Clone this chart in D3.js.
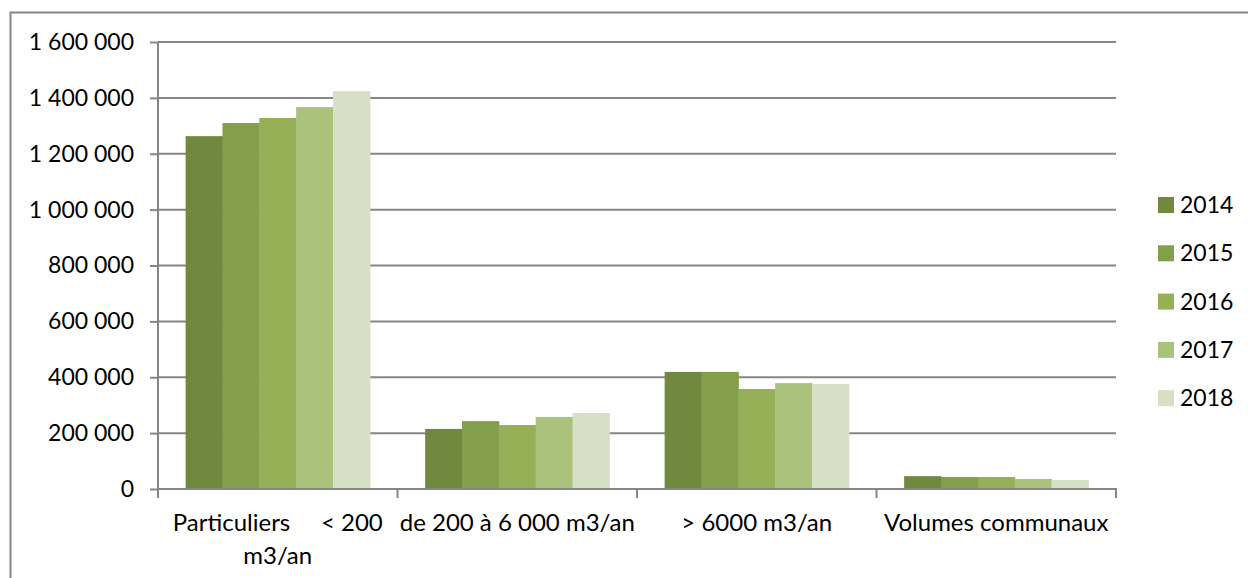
<!DOCTYPE html>
<html>
  <head>
    <meta charset="utf-8">
    <title>Volumes</title>
    <script src="https://d3js.org/d3.v7.min.js"></script>
    <style>
      body { margin: 0; background: #fff; }
      text { font-family: Lato, "Open Sans", sans-serif; fill: #000; }
    </style>
  </head>
  <body>
    <svg id="canvas" width="1248" height="578"></svg>
    <script>
      // data
      var categories = ["Particuliers      < 200 m3/an", "de 200 à 6 000 m3/an", "> 6000 m3/an", "Volumes communaux"];
      var catLines = [["Particuliers     < 200", "m3/an"], ["de 200 à 6 000 m3/an"], ["> 6000 m3/an"], ["Volumes communaux"]];
      var years = ["2014", "2015", "2016", "2017", "2018"];
      var v2014 = [1263000, 215000, 419000, 46000];
      var v2015 = [1310000, 243000, 419000, 43000];
      var v2016 = [1328000, 229000, 358000, 43000];
      var v2017 = [1367000, 258000, 379000, 36000];
      var v2018 = [1424000, 272000, 376000, 32000];
      var yTicks = [0, 200000, 400000, 600000, 800000, 1000000, 1200000, 1400000, 1600000];
      var colors = ["#71893f", "#839f4c", "#96b058", "#aac27b", "#d7e0c5"];

      var series = [v2014, v2015, v2016, v2017, v2018];

      var svg = d3.select("#canvas");
      var pLeft = 158, pRight = 1116, pTop = 42, pBottom = 489;

      // outer frame
      svg.append("rect")
        .attr("x", 10.5).attr("y", 12.5)
        .attr("width", 1250).attr("height", 600)
        .style("fill", "none").style("stroke", "#868686").style("stroke-width", 2);

      var x0 = d3.scaleBand().domain(categories).range([pLeft, pRight]);
      var x1 = d3.scaleBand().domain(years).range([0, x0.bandwidth()]).paddingOuter(0.75).paddingInner(0);
      var y = d3.scaleLinear().domain([0, 1600000]).range([pBottom, pTop]);

      var fmt = function(d){ return d3.format(",")(d).replace(/,/g, " "); };

      // gridlines
      svg.append("g").selectAll("line").data(yTicks.slice(1)).enter().append("line")
        .attr("x1", pLeft).attr("x2", pRight)
        .attr("y1", function(d){ return y(d); }).attr("y2", function(d){ return y(d); })
        .style("stroke", "#868686").style("stroke-width", 2);

      // bars
      var groups = svg.append("g").selectAll("g").data(categories).enter().append("g")
        .attr("transform", function(d){ return "translate(" + x0(d) + ",0)"; });
      groups.selectAll("rect")
        .data(function(d, i){ return years.map(function(yr, j){ return {year: yr, value: series[j][i], k: j}; }); })
        .enter().append("rect")
        .attr("x", function(d){ return x1(d.year); })
        .attr("width", x1.bandwidth() + 0.5)
        .attr("y", function(d){ return y(d.value); })
        .attr("height", function(d){ return pBottom - y(d.value); })
        .style("fill", function(d){ return colors[d.k]; });

      // y axis
      var yAxis = svg.append("g").attr("transform", "translate(" + pLeft + ",0)")
        .call(d3.axisLeft(y).tickValues(yTicks).tickFormat(fmt).tickSize(8).tickPadding(16));
      yAxis.select(".domain").style("stroke", "#868686").style("stroke-width", 2).attr("d", "M0," + pTop + "V" + pBottom);
      yAxis.selectAll(".tick line").style("stroke", "#868686").style("stroke-width", 2);
      yAxis.selectAll("text").style("font-size", "23px").style("font-family", "Lato, 'Open Sans', sans-serif").style("fill", "#000");

      // x axis
      var xAxis = svg.append("g").attr("transform", "translate(0," + pBottom + ")");
      xAxis.append("line").attr("x1", pLeft - 1).attr("x2", pRight + 1)
        .style("stroke", "#868686").style("stroke-width", 2);
      var bounds = categories.map(function(c){ return x0(c); }).concat([pRight]);
      xAxis.selectAll(".tk").data(bounds).enter().append("line")
        .attr("x1", function(d){ return d; }).attr("x2", function(d){ return d; })
        .attr("y1", 0).attr("y2", 9)
        .style("stroke", "#868686").style("stroke-width", 2);
      var labels = xAxis.selectAll(".lbl").data(categories).enter().append("text")
        .attr("text-anchor", "middle")
        .attr("x", function(d){ return x0(d) + x0.bandwidth() / 2; })
        .attr("y", 42)
        .style("font-size", "24px")
        .style("white-space", "pre");
      labels.each(function(d, i){
        var t = d3.select(this);
        catLines[i].forEach(function(line, k){
          t.append("tspan").attr("x", x0(d) + x0.bandwidth() / 2).attr("dy", k === 0 ? 0 : 33).text(line);
        });
      });

      // legend
      var legend = svg.append("g").selectAll("g").data(years).enter().append("g")
        .attr("transform", function(d, i){ return "translate(1158," + (205 + i * 48.3) + ")"; });
      legend.append("rect").attr("x", 0).attr("y", -8).attr("width", 16).attr("height", 16)
        .style("fill", function(d, i){ return colors[i]; });
      legend.append("text").attr("x", 22).attr("y", 8).style("font-size", "23px").text(function(d){ return d; });
    </script>
  </body>
</html>
